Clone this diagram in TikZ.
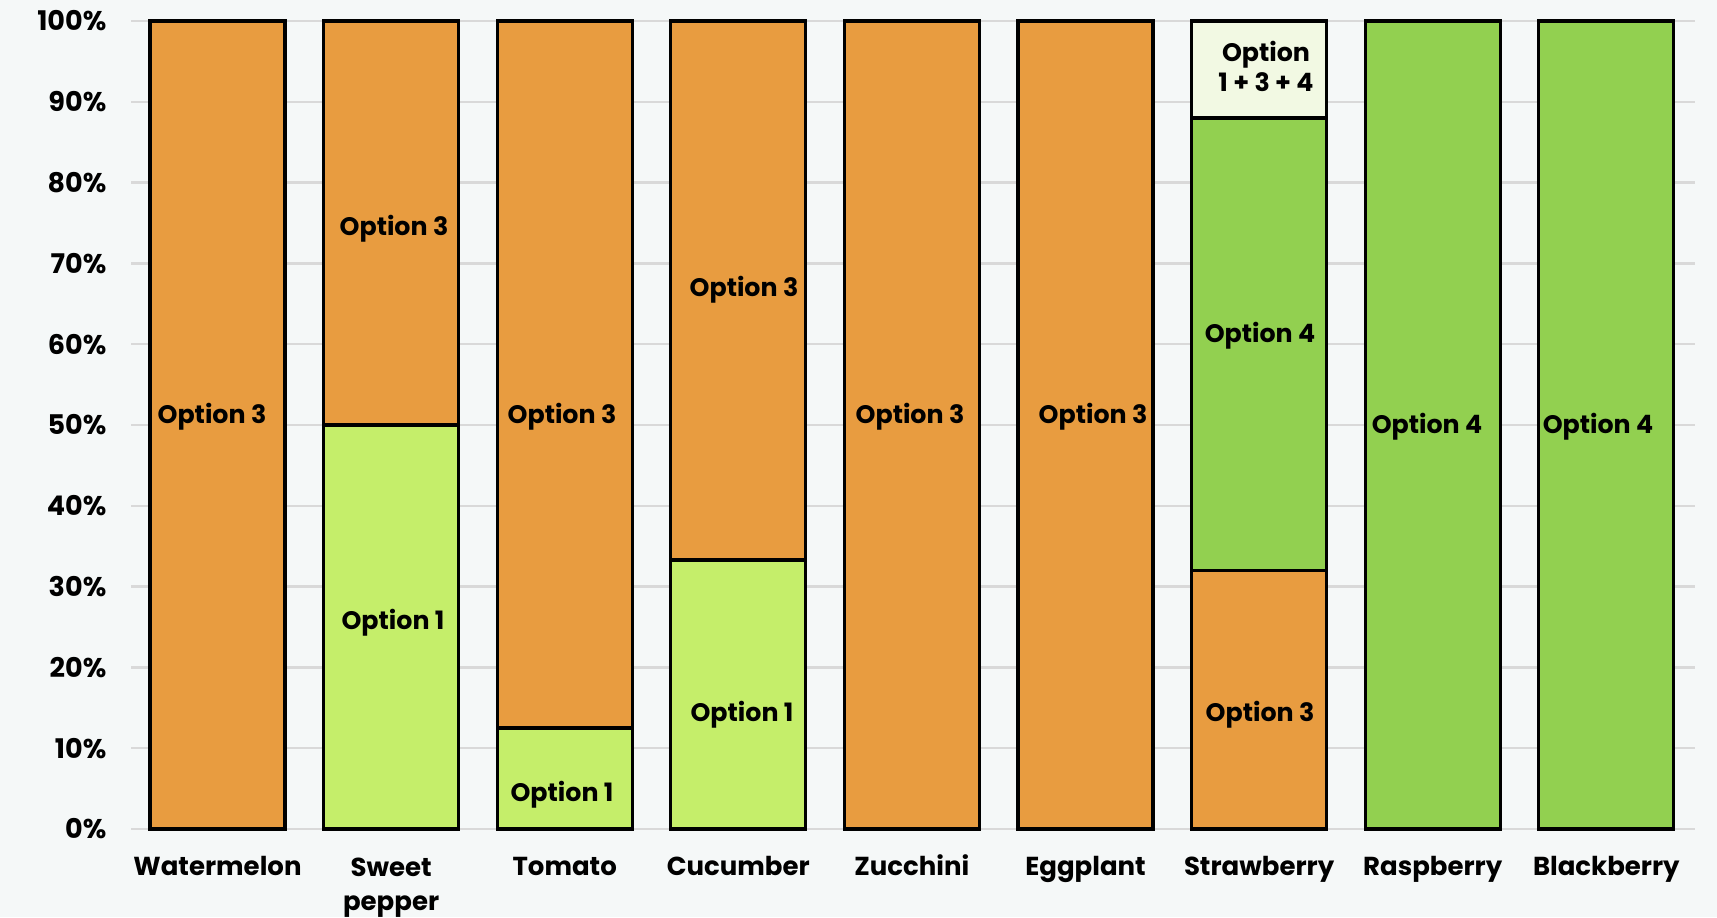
\documentclass[tikz,border=0pt]{standalone}
\usepackage{fontspec}
\setmainfont{Poppins}
\definecolor{bgcol}{RGB}{245,248,248}
\definecolor{gridcol}{RGB}{217,217,217}
\definecolor{orng}{RGB}{232,156,64}
\definecolor{lgrn}{RGB}{197,238,106}
\definecolor{grn}{RGB}{146,208,80}
\definecolor{pale}{RGB}{242,249,227}
\tikzset{
  barseg/.style={draw=black,line width=0.9pt},
  seglabel/.style={inner sep=0pt,align=center,font=\bfseries\fontsize{7.2}{8.6}\selectfont},
  catlabel/.style={anchor=base,inner sep=0pt,font=\bfseries\fontsize{7.4}{9.8}\selectfont}
}

\begin{document}
\begin{tikzpicture}[x=0.1mm,y=0.808mm,font=\bfseries\fontsize{7.7}{9}\selectfont]
        \fill[bgcol] (0,-10.9) rectangle (1717,102.6);
        \useasboundingbox (0,-10.9) rectangle (1717,102.6);
        \foreach \p in {0,10,...,100}{
          \draw[gridcol,line width=0.7pt] (131,\p) -- (1695,\p);
          \node[anchor=east,inner sep=0pt] (tick\p) at (107,\p) {\p\%};}
        \foreach \i/\lo/\hi/\col in {0/0/100/orng, 1/0/50/lgrn, 1/50/100/orng, 2/0/12.5/lgrn, 2/12.5/100/orng, 3/0/33.3/lgrn, 3/33.3/100/orng, 4/0/100/orng, 5/0/100/orng, 6/0/32/orng, 6/32/88/grn, 6/88/100/pale, 7/0/100/grn, 8/0/100/grn}
          \draw[barseg,fill=\col] ({150+173.6*\i},\lo) rectangle ++(135,{\hi-\lo});
        \foreach \x/\y/\t [count=\k] in {212/51.0/3, 394/74.3/3, 393/25.5/1, 562/51.0/3, 562/4.3/1, 744/66.8/3, 742/14.2/1, 910/51.0/3, 1093/51.0/3, 1260/61.1/4, 1260/14.2/3, 1427/49.8/4, 1598/49.8/4}
          \node[seglabel] (opt\k) at (\x,\y) {Option \t};
        \node[seglabel] (optmix) at (1266,94.4) {Option\\1 + 3 + 4};
        \foreach \name/\txt/\y [count=\i from 0] in {water/Watermelon/-5.8, pepper/Sweet\\pepper/-10.1, tomato/Tomato/-5.8, cucumber/Cucumber/-5.8, zucchini/Zucchini/-5.8, eggplant/Eggplant/-5.8, straw/Strawberry/-5.8, rasp/Raspberry/-5.8, black/Blackberry/-5.8}
          \node[catlabel,align=center] (\name) at ({217.5+173.6*\i},\y) {\txt};
      \end{tikzpicture}
\end{document}
